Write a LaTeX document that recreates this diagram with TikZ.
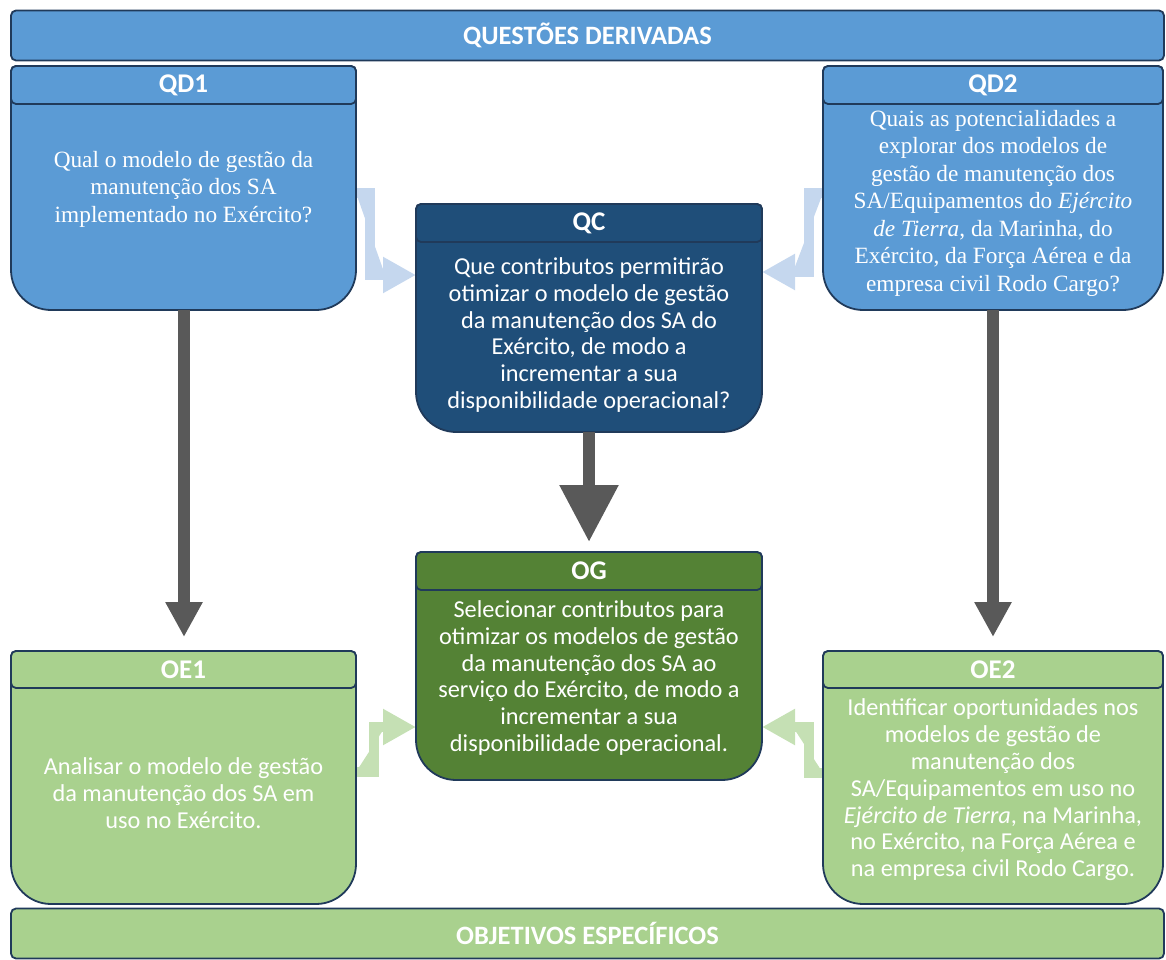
\documentclass[tikz,border=0pt]{standalone}
\usepackage{fontspec}
\setmainfont{Carlito}
\newfontfamily\qserif{Liberation Serif}
\usetikzlibrary{arrows.meta}

\definecolor{qdblue}{HTML}{5B9BD5}
\definecolor{qcnavy}{HTML}{1F4E79}
\definecolor{oggreen}{HTML}{548235}
\definecolor{oelight}{HTML}{A9D18E}
\definecolor{cardedge}{HTML}{203A5A}
\definecolor{bentblue}{HTML}{C5D7EE}
\definecolor{bentgreen}{HTML}{C5E0B4}
\definecolor{arrowgrey}{HTML}{595959}

\tikzset{
  slot/.style={inner sep=0pt, outer sep=0pt},
  cardline/.style={draw=cardedge, line width=1.8pt},
  banner/.style={cardline, rounded corners=5pt, minimum width=1153pt, minimum height=50pt,
    inner sep=0pt, text=white, font=\bfseries\fontsize{26.5}{30}\selectfont},
  hdr/.style={text=white, inner sep=0pt, font=\bfseries\fontsize{27}{30}\selectfont},
  sbody/.style={text=white, align=center, inner sep=0pt, font=\qserif\fontsize{23.3}{27.5}\selectfont},
  cbody/.style={text=white, align=center, inner sep=0pt, font=\fontsize{24.3}{26.8}\selectfont},
  bentarrow/.style={line width=10pt, line join=miter, -{Triangle[width=34pt,length=33pt]}},
  downarrow/.style={draw=arrowgrey, line width=12pt, -{Triangle[width=35pt,length=35pt]}},
  bigdownarrow/.style={draw=arrowgrey, line width=12pt, -{Triangle[width=56pt,length=57pt]}}
}

% invisible frame of a card, given by its corners (x1,y1) (x2,y2)
\newcommand\cardslot[5]{%
  \node[slot, minimum width={#4-#2}, minimum height={#5-#3}] (#1) at ({(#2+#4)/2},{(#3+#5)/2}) {};}

% card outline: small rounded top, large rounded bottom, and a title strip
\newcommand\drawcard[3]{%
  \draw[cardline, fill=#2] ([yshift=-60pt]#1.north west) [rounded corners=5pt]
    -- (#1.north west) -- (#1.north east) -- ([yshift=-60pt]#1.north east)
    [rounded corners=40pt] -- (#1.south east) -- (#1.south west) -- cycle;
  \draw[cardline, fill=#2, rounded corners=5pt] (#1.north west) rectangle ([yshift=-#3pt]#1.north east);}

\begin{document}
\begin{tikzpicture}[x=1pt,y=-1pt]
\useasboundingbox (0,0) rectangle (1166,960);

% card frames
\cardslot{qd1}{11}{66}{356}{310}
\cardslot{qd2}{823}{66}{1163}{310}
\cardslot{qc}{416}{204}{762}{432}
\cardslot{og}{416}{552}{762}{780}
\cardslot{oe1}{11}{651}{356}{904}
\cardslot{oe2}{823}{651}{1163}{904}

% light bent arrows into the central cards
\draw[bentarrow, draw=bentblue, fill=bentblue] (qd1.east |- 0,193) -| (370,275) -- (qc.west |- 0,275);
\draw[bentarrow, draw=bentblue, fill=bentblue] (qd2.west |- 0,193) -| (809,272) -- (qc.east |- 0,272);
\draw[bentarrow, draw=bentgreen, fill=bentgreen] (oe1.east |- 0,772) -| (374,727) -- (og.west |- 0,727);
\draw[bentarrow, draw=bentgreen, fill=bentgreen] (oe2.west |- 0,773) -| (809,727) -- (og.east |- 0,727);

% banners
\node[banner, fill=qdblue] (qtop) at (587.5,35.5) {QUESTÕES DERIVADAS};
\node[banner, fill=oelight] (obot) at (587.5,933.5) {OBJETIVOS ESPECÍFICOS};

% cards
\drawcard{qd1}{qdblue}{38}
\drawcard{qd2}{qdblue}{38}
\drawcard{qc}{qcnavy}{38}
\drawcard{og}{oggreen}{38}
\drawcard{oe1}{oelight}{37}
\drawcard{oe2}{oelight}{37}

% dark arrows
\draw[downarrow] ([xshift=0.5pt]qd1.south) -- ([xshift=0.5pt,yshift=14pt]oe1.north);
\draw[downarrow] (qd2.south) -- ([yshift=14pt]oe2.north);
\draw[bigdownarrow] (qc.south) -- ([yshift=10pt]og.north);

% titles
\node[hdr] (qd1t) at ([yshift=-19pt]qd1.north) {QD1};
\node[hdr] (qd2t) at ([yshift=-19pt]qd2.north) {QD2};
\node[hdr] (qct) at ([yshift=-19pt]qc.north) {QC};
\node[hdr] (ogt) at ([yshift=-19pt]og.north) {OG};
\node[hdr] (oe1t) at ([yshift=-18.5pt]oe1.north) {OE1};
\node[hdr] (oe2t) at ([yshift=-18.5pt]oe2.north) {OE2};

% texts
\node[sbody] (qd1b) at (183.5,189) {Qual o modelo de gestão da\\manutenção dos SA\\implementado no Exército?};
\node[sbody] (qd2b) at (993,203) {Quais as potencialidades a\\explorar dos modelos de\\gestão de manutenção dos\\SA/Equipamentos do \textit{Ejército}\\\textit{de Tierra}, da Marinha, do\\Exército, da Força Aérea e da\\empresa civil Rodo Cargo?};
\node[cbody] (qcb) at (589,335) {Que contributos permitirão\\otimizar o modelo de gestão\\da manutenção dos SA do\\Exército, de modo a\\incrementar a sua\\disponibilidade operacional?};
\node[cbody] (ogb) at (589,678) {Selecionar contributos para\\otimizar os modelos de gestão\\da manutenção dos SA ao\\serviço do Exército, de modo a\\incrementar a sua\\disponibilidade operacional.};
\node[cbody] (oe1b) at (183.5,793) {Analisar o modelo de gestão\\da manutenção dos SA em\\uso no Exército.};
\node[cbody] (oe2b) at (993,790) {Identificar oportunidades nos\\modelos de gestão de\\manutenção dos\\SA/Equipamentos em uso no\\\textit{Ejército de Tierra}, na Marinha,\\no Exército, na Força Aérea e\\na empresa civil Rodo Cargo.};
\end{tikzpicture}
\end{document}
